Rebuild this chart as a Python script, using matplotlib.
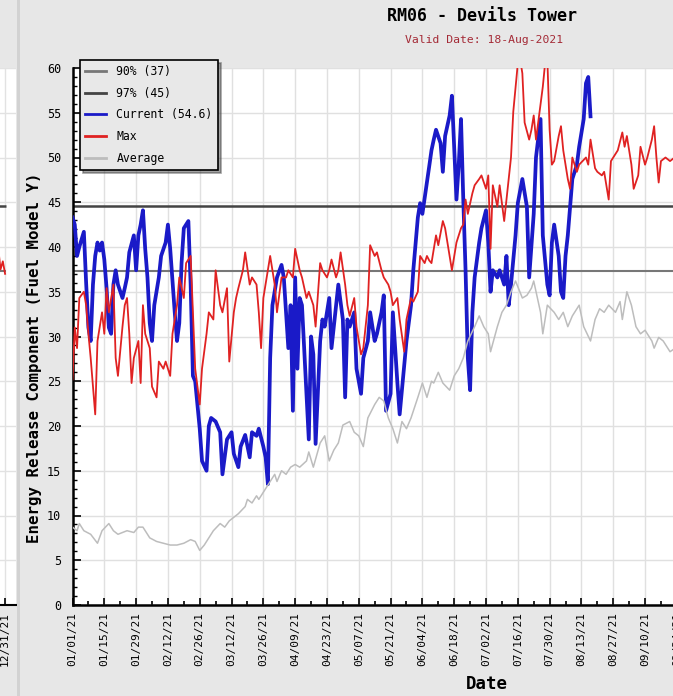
import datetime
import matplotlib
matplotlib.use("Agg")
import matplotlib.pyplot as plt
from matplotlib.lines import Line2D
from matplotlib.patches import Rectangle
from matplotlib.ticker import MultipleLocator, FixedLocator, FuncFormatter

plt.rcParams['font.family'] = ['DejaVu Sans Mono']

# ERC, Fuel Model Y -- day numbers count from 01/01/21
cur_day = [0, 1, 2, 3, 5, 6, 7, 8, 9, 10, 11, 12, 13, 14, 15, 16, 17, 18, 19, 20,
           22, 23, 24, 25, 27, 28, 29, 30, 31, 32, 33, 34, 35, 36, 38, 39, 41, 42, 43, 44,
           45, 46, 47, 48, 49, 51, 52, 53, 54, 56, 57, 59, 60, 61, 63, 65, 66, 68, 70, 71,
           73, 74, 76, 78, 79, 81, 82, 84, 85, 86, 87, 88, 90, 92, 93, 95, 96, 97, 98, 99,
           100, 101, 103, 104, 105, 106, 107, 109, 110, 111, 113, 114, 116, 117, 119, 120, 121, 122, 124, 125,
           127, 128, 130, 131, 133, 134, 136, 137, 138, 140, 141, 143, 144, 146, 147, 149, 150, 152, 153, 154,
           156, 157, 158, 159, 160, 162, 163, 164, 166, 167, 168, 169, 170, 171, 172, 173, 174, 175, 176, 177,
           179, 180, 182, 183, 184, 185, 187, 188, 190, 191, 192, 193, 195, 196, 198, 200, 201, 203, 204, 206,
           207, 209, 210, 211, 212, 214, 215, 216, 217, 218, 219, 220, 222, 223, 225, 226, 227, 228]
cur_erc = [43.3, 42.5, 39.0, 40.0, 41.7, 36.0, 31.0, 29.5, 35.8, 39.0, 40.5, 39.6, 40.5, 38.6, 35.4, 31.0, 30.3, 35.8, 37.4, 35.8,
           34.3, 35.4, 36.6, 39.4, 41.3, 37.4, 41.3, 42.5, 44.1, 39.8, 36.6, 31.5, 29.5, 33.5, 36.6, 39.0, 40.5, 42.5, 39.8, 36.2,
           32.7, 29.5, 31.5, 38.2, 42.1, 42.9, 35.8, 25.6, 25.0, 19.7, 16.1, 15.0, 20.0, 20.9, 20.5, 19.3, 14.6, 18.5, 19.3, 16.9,
           15.4, 17.7, 19.0, 16.5, 19.3, 18.9, 19.7, 17.7, 16.5, 13.5, 27.6, 33.5, 36.6, 38.0, 36.6, 28.7, 33.5, 21.7, 36.6, 26.4,
           34.3, 33.5, 23.6, 18.5, 30.0, 28.0, 18.0, 29.5, 31.9, 31.1, 34.3, 28.7, 33.5, 35.8, 31.9, 23.2, 31.9, 31.1, 32.7, 26.4,
           23.6, 27.6, 29.5, 32.7, 29.5, 30.3, 32.7, 34.6, 21.7, 23.6, 32.7, 24.8, 21.3, 26.8, 29.5, 33.5, 37.4, 43.3, 44.9, 43.7,
           47.2, 49.0, 50.8, 52.0, 53.1, 51.6, 48.4, 52.4, 54.7, 56.9, 51.2, 45.3, 49.2, 54.3, 45.3, 37.4, 27.6, 24.0, 32.7, 36.6,
           40.5, 42.1, 44.1, 40.5, 35.0, 37.4, 36.6, 37.4, 35.8, 39.0, 33.5, 35.8, 41.3, 44.9, 47.6, 44.5, 36.6, 43.7, 50.0, 54.3,
           41.3, 35.8, 34.6, 40.5, 42.5, 39.0, 35.0, 34.3, 39.0, 41.3, 44.5, 47.6, 49.2, 51.2, 54.3, 58.3, 59.0, 54.6]

max_day = [0, 1, 2, 3, 5, 6, 7, 8, 10, 11, 13, 14, 15, 16, 18, 19, 20, 22, 23, 24,
           25, 26, 27, 29, 30, 31, 32, 34, 35, 37, 38, 40, 41, 43, 44, 46, 47, 49, 50, 52,
           53, 54, 56, 57, 59, 60, 62, 63, 65, 66, 68, 69, 71, 72, 73, 75, 76, 78, 79, 81,
           82, 83, 84, 86, 87, 89, 90, 92, 94, 95, 97, 98, 100, 101, 103, 104, 106, 107, 109, 110,
           112, 113, 114, 116, 117, 118, 120, 121, 122, 124, 125, 127, 128, 130, 131, 133, 134, 136, 137, 139,
           140, 141, 143, 144, 146, 147, 149, 150, 152, 153, 155, 156, 157, 158, 160, 161, 163, 164, 166, 167,
           169, 171, 172, 173, 174, 176, 177, 179, 180, 182, 183, 184, 185, 187, 188, 190, 191, 193, 194, 196,
           197, 198, 199, 201, 202, 203, 204, 206, 207, 208, 209, 210, 211, 212, 214, 215, 216, 218, 219, 220,
           222, 223, 226, 227, 228, 230, 231, 233, 234, 236, 237, 239, 240, 242, 243, 244, 246, 247, 249, 250,
           252, 253, 255, 256, 257, 258, 259, 261, 263, 266, 270]
max_erc = [25.2, 31.0, 28.7, 34.3, 35.0, 33.5, 30.3, 27.6, 21.3, 29.5, 32.7, 30.3, 35.4, 32.7, 35.8, 27.6, 25.6, 31.1, 33.5, 34.3,
           30.3, 24.8, 27.6, 29.5, 24.8, 33.5, 30.3, 28.7, 24.4, 23.2, 27.2, 26.4, 27.2, 25.6, 30.3, 33.5, 36.6, 34.3, 38.2, 39.0,
           32.7, 26.4, 22.4, 26.4, 30.3, 32.7, 31.9, 37.4, 33.5, 32.7, 35.4, 27.2, 32.7, 34.3, 35.4, 37.4, 39.4, 35.8, 36.6, 35.8,
           32.7, 28.7, 34.3, 37.4, 39.0, 35.8, 32.7, 36.6, 36.6, 37.4, 36.6, 39.8, 37.4, 36.6, 34.3, 35.0, 33.5, 31.1, 38.2, 37.4,
           36.6, 37.4, 38.6, 36.6, 37.4, 39.4, 35.8, 33.5, 32.3, 34.3, 31.1, 28.0, 28.7, 33.5, 40.2, 39.0, 39.4, 37.4, 36.6, 35.8,
           35.0, 33.5, 34.3, 31.9, 28.3, 31.9, 34.3, 33.9, 35.0, 39.0, 38.2, 39.0, 38.5, 38.2, 41.3, 40.2, 42.9, 42.1, 39.0, 37.4,
           40.5, 42.1, 42.5, 45.3, 43.7, 46.0, 46.9, 47.6, 48.0, 46.5, 48.0, 39.8, 46.9, 44.5, 46.9, 42.9, 45.3, 50.0, 55.1, 60.5,
           61.0, 59.4, 53.9, 52.0, 53.1, 54.7, 52.0, 55.9, 57.9, 60.5, 61.0, 53.1, 49.2, 49.6, 52.4, 53.5, 50.8, 47.6, 46.5, 50.0,
           48.4, 49.2, 50.0, 49.2, 52.0, 48.8, 48.4, 48.0, 48.4, 45.3, 49.6, 50.4, 50.8, 52.8, 51.2, 52.4, 49.2, 46.5, 48.0, 51.2,
           49.2, 50.0, 52.0, 53.5, 50.0, 47.2, 49.6, 50.0, 49.6, 50.2, 49.0]

avg_day = [0, 2, 3, 5, 8, 11, 13, 16, 18, 20, 22, 24, 27, 29, 31, 34, 37, 40, 43, 46,
           49, 52, 54, 56, 58, 60, 62, 65, 67, 69, 71, 73, 76, 77, 79, 81, 82, 84, 87, 89,
           90, 92, 94, 96, 98, 100, 103, 104, 106, 109, 111, 113, 115, 117, 119, 122, 124, 126, 128, 130,
           133, 135, 137, 139, 141, 143, 145, 147, 149, 152, 154, 156, 158, 159, 161, 163, 166, 168, 170, 172,
           174, 177, 179, 181, 183, 184, 187, 189, 191, 193, 195, 198, 200, 202, 203, 206, 207, 209, 212, 214,
           216, 218, 220, 223, 225, 228, 230, 232, 234, 236, 239, 241, 242, 244, 246, 248, 250, 252, 255, 256,
           258, 260, 263, 267, 270]
avg_erc = [8.7, 8.3, 9.1, 8.3, 7.9, 6.9, 8.3, 9.1, 8.3, 7.9, 8.1, 8.3, 8.1, 8.7, 8.7, 7.5, 7.1, 6.9, 6.7, 6.7,
           6.9, 7.3, 7.1, 6.1, 6.7, 7.5, 8.3, 9.1, 8.7, 9.4, 9.8, 10.2, 11.0, 11.8, 11.4, 12.2, 11.8, 12.6, 13.8, 14.6,
           13.8, 15.0, 14.6, 15.4, 15.7, 15.4, 16.1, 17.1, 15.4, 18.1, 18.9, 16.1, 17.3, 18.1, 20.1, 20.5, 19.3, 18.9, 17.7, 20.9,
           22.4, 23.2, 22.8, 20.9, 19.7, 18.1, 20.5, 19.7, 20.9, 23.2, 24.8, 23.2, 25.0, 24.8, 26.0, 24.8, 24.0, 25.6, 26.4, 27.6,
           29.5, 31.1, 32.3, 31.1, 30.3, 28.3, 31.1, 32.7, 33.5, 35.0, 36.2, 34.3, 34.6, 35.4, 36.2, 32.7, 30.3, 33.5, 32.7, 31.9,
           32.7, 31.1, 32.3, 33.5, 31.1, 29.5, 31.9, 33.1, 32.7, 33.5, 32.7, 33.9, 31.9, 35.0, 33.5, 31.1, 30.3, 30.7, 29.5, 28.7,
           29.9, 29.5, 28.3, 29.0, 28.5]

p90 = 37.3
p97 = 44.6

# neighbouring station chart, last days of its year
prev_day = [358, 360, 361, 362, 363, 364]
prev_max = [36.0, 38.5, 39.8, 37.5, 38.4, 37.0]

W, H = 673, 696
px_day = 2.272
x_end = 368.8

fig = plt.figure(figsize=(W / 100, H / 100), dpi=100, facecolor='#e7e7e7')

# --- left neighbour sliver ---
axl = fig.add_axes([-55 / W, (H - 605) / H, 71 / W, 537 / H], facecolor='white')
axl.set_xlim(x_end - 71 / px_day, x_end)
axl.set_ylim(0, 60)
axl.yaxis.set_major_locator(MultipleLocator(5))
axl.set_xticks([364])
axl.set_xticklabels(['12/31/21'], rotation=90, fontsize=8)
axl.set_yticklabels([])
axl.grid(True, color='#e2e2e2', lw=1)
axl.hlines([p90], 330, 364.5, color='#777777', lw=1.5)
axl.hlines([p97], 330, 364.5, color='#444444', lw=1.8)
axl.plot(prev_day, prev_max, color='#e02020', lw=1.3)
for s in ['top', 'right', 'left']:
    axl.spines[s].set_visible(False)
axl.spines['bottom'].set_linewidth(1.5)
axl.tick_params(axis='x', direction='in', length=5, width=1.2, pad=5)
axl.tick_params(axis='y', length=0)

# panel border between the two charts
fig.patches.append(Rectangle((17 / W, 0), 2.5 / W, 1, transform=fig.transFigure,
                             facecolor='#d2d2d2', edgecolor='none'))

# --- main chart ---
ax = fig.add_axes([72.5 / W, (H - 605) / H, x_end * px_day / W, 537 / H], facecolor='white')
ax.set_xlim(0, x_end)
ax.set_ylim(0, 60)

ax.grid(True, which='major', color='#e0e0e0', lw=1, zorder=0)
ax.axhline(p90, color='#777777', lw=1.5, zorder=2)
ax.axhline(p97, color='#444444', lw=1.8, zorder=2)
ax.plot(cur_day, cur_erc, color='#1a1ac8', lw=2.7, zorder=3)
ax.plot(max_day, max_erc, color='#e02222', lw=1.3, zorder=4)
ax.plot(avg_day, avg_erc, color='#bdbdbd', lw=1.1, zorder=5)

start = datetime.date(2021, 1, 1)
ax.xaxis.set_major_locator(FixedLocator(list(range(0, 267, 14))))
ax.xaxis.set_minor_locator(FixedLocator(list(range(0, 280, 7))))
ax.xaxis.set_major_formatter(FuncFormatter(
    lambda d, pos: (start + datetime.timedelta(days=int(round(d)))).strftime('%m/%d/%y')))
ax.yaxis.set_major_locator(MultipleLocator(5))
ax.yaxis.set_minor_locator(MultipleLocator(1))

ax.tick_params(axis='x', which='major', direction='in', length=5, width=1.2,
               labelsize=8, labelrotation=90, pad=5)
ax.tick_params(axis='x', which='minor', direction='in', length=3, width=1.2)
ax.tick_params(axis='y', which='major', direction='in', length=6, width=1.2,
               labelsize=8.5, pad=8)
ax.tick_params(axis='y', which='minor', direction='in', length=3, width=1)

for s in ['top', 'right']:
    ax.spines[s].set_visible(False)
for s in ['left', 'bottom']:
    ax.spines[s].set_linewidth(1.8)

# titles and axis labels
fig.text(482 / W, 1 - 16 / H, 'RM06 - Devils Tower', ha='center', va='center',
         fontsize=12, fontweight='bold')
fig.text(484 / W, 1 - 40 / H, 'Valid Date: 18-Aug-2021', ha='center', va='center',
         fontsize=8.2, color='#a42a36')
fig.text(35 / W, 1 - 358 / H, 'Energy Release Component (Fuel Model Y)', ha='center',
         va='center', rotation=90, fontsize=11.3, fontweight='bold')
fig.text(487 / W, 1 - 684 / H, 'Date', ha='center', va='center',
         fontsize=12.5, fontweight='bold')

# legend
handles = [
    Line2D([], [], color='#777777', lw=2),
    Line2D([], [], color='#444444', lw=2),
    Line2D([], [], color='#1a1ac8', lw=2),
    Line2D([], [], color='#e02222', lw=2),
    Line2D([], [], color='#bdbdbd', lw=2),
]
labels = ['90%% (%.0f)' % p90, '97%% (%.0f)' % p97, 'Current (%.1f)' % cur_erc[-1], 'Max', 'Average']
leg = fig.legend(handles, labels, loc='upper left', bbox_to_anchor=(80 / W, 1 - 60 / H),
                 frameon=True, fancybox=False, shadow=True, facecolor='#e8e8e8',
                 edgecolor='black', framealpha=1, fontsize=8.3, handlelength=1.8,
                 handletextpad=0.9, labelspacing=0.75, borderpad=0.45, borderaxespad=0)
leg.get_frame().set_linewidth(1.2)

fig.savefig('out.png', dpi=100, facecolor=fig.get_facecolor())
